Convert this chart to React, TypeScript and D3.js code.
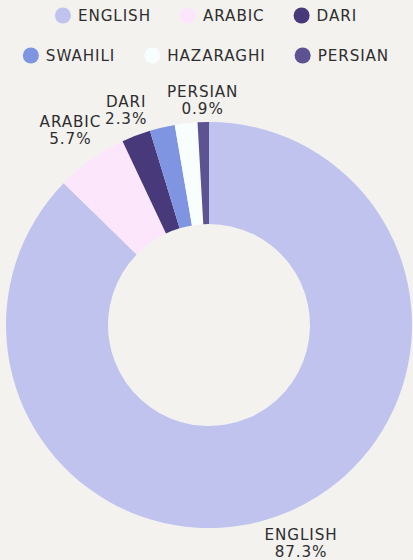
import React, { useEffect, useRef } from "react";
import * as d3 from "d3";

const categories = ["ENGLISH", "ARABIC", "DARI", "SWAHILI", "HAZARAGHI", "PERSIAN"];
const values = [87.3, 5.7, 2.3, 2.0, 1.8, 0.9];
const colors = ["#bfc3ee", "#fce6fb", "#47397a", "#7f95e2", "#f8fefe", "#5d5392"];
const legendRows = [["ENGLISH", "ARABIC", "DARI"], ["SWAHILI", "HAZARAGHI", "PERSIAN"]];
const labelled = ["ENGLISH", "ARABIC", "DARI", "PERSIAN"];

const W = 413;
const H = 560;
const BG = "#f3f2ef";
const FONT = "'DejaVu Sans', sans-serif";
const TXT = "#2e2e2e";
const FS = 15.2;
const LS = 0.9;

export default function App() {
  const ref = useRef<SVGSVGElement | null>(null);

  useEffect(() => {
    const svg = d3.select(ref.current);
    svg.selectAll("*").remove();
    svg.append("rect").attr("width", W).attr("height", H).attr("fill", BG);

    const cx = 209, cy = 325, rOut = 203, rIn = 101;
    const color = d3.scaleOrdinal<string, string>().domain(categories).range(colors);
    const data = categories.map((c, i) => ({ name: c, value: values[i] }));
    const pie = d3.pie<any>().sort(null).value((d) => d.value);
    const arcs = pie(data);
    const arc = d3.arc<any>().innerRadius(rIn).outerRadius(rOut);

    const g = svg.append("g").attr("transform", `translate(${cx},${cy})`);
    g.selectAll("path")
      .data(arcs)
      .join("path")
      .attr("d", arc as any)
      .attr("fill", (d: any) => color(d.data.name));

    // labels
    const lg = g.append("g");
    arcs.filter((a) => labelled.includes(a.data.name)).forEach((a) => {
      const mid = (a.startAngle + a.endAngle) / 2;
      const sx = Math.sin(mid), sy = -Math.cos(mid);
      const t = lg.append("g");
      const t1 = t.append("text").text(a.data.name)
        .attr("text-anchor", "middle").attr("font-family", FONT).attr("font-size", FS)
        .attr("letter-spacing", LS).attr("fill", TXT).attr("y", -3);
      const t2 = t.append("text").text(d3.format(".1f")(a.data.value) + "%")
        .attr("text-anchor", "middle").attr("font-family", FONT).attr("font-size", FS)
        .attr("letter-spacing", LS).attr("fill", TXT).attr("y", 14);
      const w = Math.max((t1.node() as any).getComputedTextLength(), (t2.node() as any).getComputedTextLength());
      const h = 32;
      const ext = Math.abs(sx) * w / 2 + Math.abs(sy) * h / 2;
      const r0 = rOut + 5;
      const x = sx * (r0 + ext), y = sy * (r0 + ext);
      t.attr("transform", `translate(${x},${y})`);
    });

    // legend
    const rowY = [15.5, 55.5];
    legendRows.forEach((row, ri) => {
      const rg = svg.append("g");
      let x = 0;
      row.forEach((name, i) => {
        const ig = rg.append("g").attr("transform", `translate(${x},0)`);
        ig.append("circle").attr("cx", 8).attr("cy", rowY[ri]).attr("r", 8).attr("fill", color(name));
        const tx = ig.append("text").text(name).attr("x", 23).attr("y", rowY[ri] + 5.5)
          .attr("font-family", FONT).attr("font-size", FS).attr("letter-spacing", LS).attr("fill", TXT);
        const tw = (tx.node() as any).getComputedTextLength();
        x += 23 + tw + (i < row.length - 1 ? 29 : 0);
      });
      rg.attr("transform", `translate(${206 - x / 2},0)`);
    });
  }, []);

  return (
    <svg ref={ref} width={W} height={H} style={{ position: "absolute", left: 0, top: 0, display: "block" }} />
  );
}
